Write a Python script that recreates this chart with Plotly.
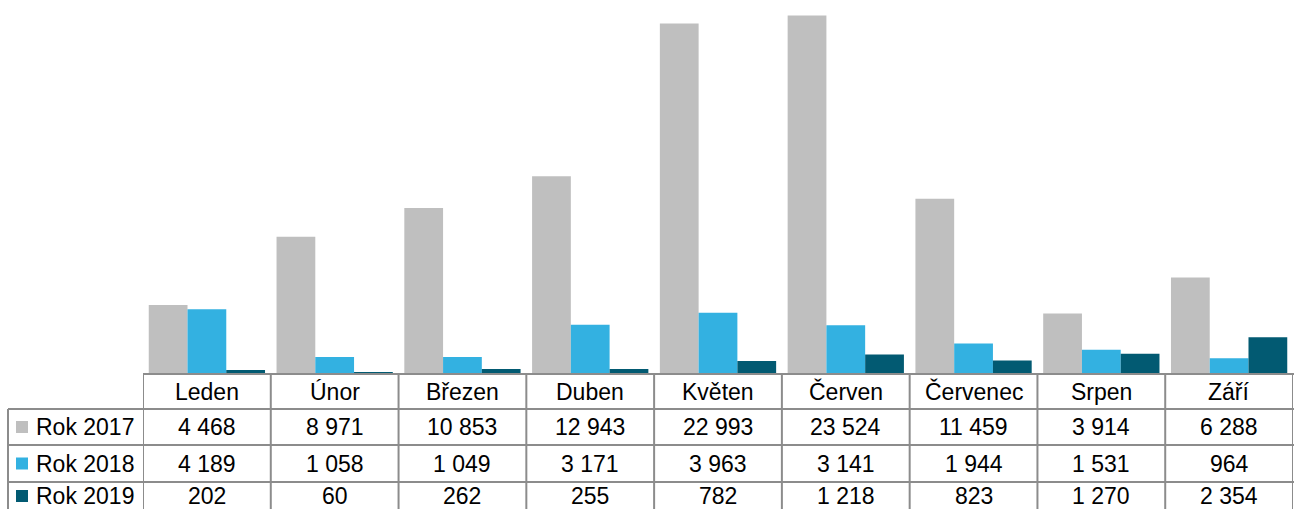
import plotly.graph_objects as go

months = ["Leden", "Únor", "Březen", "Duben", "Květen", "Červen", "Červenec", "Srpen", "Září"]
series_names = ["Rok 2017", "Rok 2018", "Rok 2019"]
rok_2017 = [4468, 8971, 10853, 12943, 22993, 23524, 11459, 3914, 6288]
rok_2018 = [4189, 1058, 1049, 3171, 3963, 3141, 1944, 1531, 964]
rok_2019 = [202, 60, 262, 255, 782, 1218, 823, 1270, 2354]
colors = ["#BFBFBF", "#33B1E1", "#025A72"]

W, H = 1294, 509
series = [rok_2017, rok_2018, rok_2019]

def py(pix):
    return 1 - pix / H

def px(pix):
    return pix / W

fig = go.Figure()
for name, vals, col in zip(series_names, series, colors):
    fig.add_trace(go.Bar(x=months, y=vals, name=name, marker=dict(color=col, line=dict(width=0)),
                         hoverinfo="x+y+name"))

line_col = "#8C8C8C"
lw = 2
shapes = []
ann = []
font = dict(family="Liberation Sans, Arial, sans-serif", size=23, color="#000000")

# horizontal lines
shapes.append(dict(type="line", xref="paper", yref="paper", x0=px(143), x1=1, y0=py(374), y1=py(374),
                   line=dict(color=line_col, width=lw)))
for yy in [409, 445, 482]:
    shapes.append(dict(type="line", xref="paper", yref="paper", x0=px(8), x1=1, y0=py(yy), y1=py(yy),
                       line=dict(color=line_col, width=lw)))
# vertical lines
for i in range(len(months) + 1):
    shapes.append(dict(type="line", xref="x", yref="paper", x0=i - 0.5, x1=i - 0.5, y0=py(374), y1=0,
                       line=dict(color=line_col, width=lw)))
shapes.append(dict(type="line", xref="paper", yref="paper", x0=px(8), x1=px(8), y0=py(409), y1=0,
                   line=dict(color=line_col, width=lw)))

# header
for m in months:
    ann.append(dict(x=m, xref="x", y=py(391.5), yref="paper", text=m, showarrow=False, font=font,
                    xanchor="center", yanchor="middle"))

row_centers = [427, 463.5, 496]
for name, vals, col, yc in zip(series_names, series, colors, row_centers):
    shapes.append(dict(type="rect", xref="paper", yref="paper", x0=px(16), x1=px(28),
                       y0=py(yc + 6), y1=py(yc - 6), fillcolor=col, line=dict(width=0)))
    ann.append(dict(x=px(34), xref="paper", y=py(yc), yref="paper", text=name, showarrow=False,
                    font=font, xanchor="left", yanchor="middle"))
    for m, v in zip(months, vals):
        ann.append(dict(x=m, xref="x", y=py(yc), yref="paper", text=f"{v:,}".replace(",", " "),
                        showarrow=False, font=font, xanchor="center", yanchor="middle"))

fig.update_layout(
    width=W, height=H,
    margin=dict(l=0, r=0, t=0, b=0),
    paper_bgcolor="white", plot_bgcolor="white",
    barmode="group", bargap=0.09, bargroupgap=0,
    showlegend=False,
    xaxis=dict(domain=[px(143), px(1293)], range=[-0.5, 8.5], showticklabels=False, showgrid=False,
               zeroline=False, showline=False, ticks=""),
    yaxis=dict(domain=[py(373), 1], range=[0, 24540], showticklabels=False, showgrid=False,
               zeroline=False, showline=False, ticks=""),
    shapes=shapes, annotations=ann,
)

fig.write_html("out.html", config={"displayModeBar": False},
               post_script="document.body.style.margin='0';document.body.style.overflow='hidden';")
